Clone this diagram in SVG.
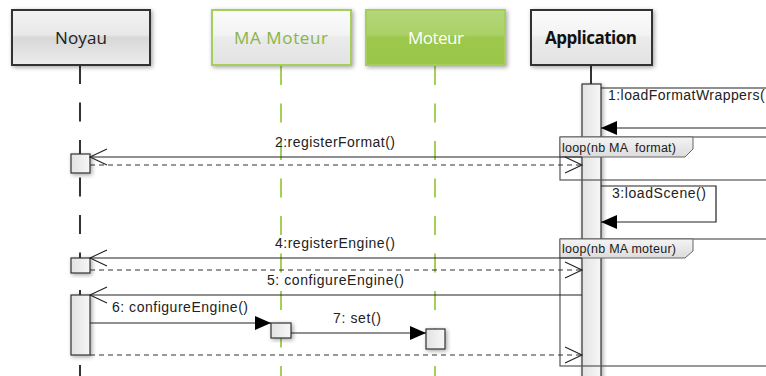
<svg xmlns="http://www.w3.org/2000/svg" width="766" height="376" viewBox="0 0 766 376">
<style>
.hdr{font-family:"Open Sans","Liberation Sans",sans-serif;font-size:17px;text-anchor:middle}
.msg{font-family:"Liberation Sans",Arial,sans-serif;font-size:14px;fill:#222}
.lbl{font-family:"Liberation Sans",Arial,sans-serif;font-size:12.5px;fill:#1a1a1a;white-space:pre}
.ln{stroke:#222;stroke-width:1.2;fill:none}
.dash{stroke:#333;stroke-width:1.2;fill:none;stroke-dasharray:5 4}
.act{fill:url(#gAct);stroke:#333;stroke-width:1.2;filter:url(#sh)}
.frame{fill:none;stroke:#555;stroke-width:1.2}
.flabel{fill:url(#gLbl);stroke:#666;stroke-width:1}
.llBlack{stroke:#333;stroke-width:2;stroke-dasharray:19 18.5}
.llGreen{stroke:#a6cf5a;stroke-width:2;stroke-dasharray:19 18.5}
</style>
<defs>
<filter id="sh" x="-20%" y="-20%" width="150%" height="150%">
<feDropShadow dx="1.5" dy="1.5" stdDeviation="2" flood-color="#000" flood-opacity="0.35"/>
</filter>
<linearGradient id="gGray" x1="0" y1="0" x2="0" y2="1">
<stop offset="0" stop-color="#f2f2f2"/><stop offset="0.45" stop-color="#e8e8e8"/><stop offset="0.5" stop-color="#d8d8d8"/><stop offset="1" stop-color="#ececec"/>
</linearGradient>
<linearGradient id="gWhite" x1="0" y1="0" x2="0" y2="1">
<stop offset="0" stop-color="#fbfbfb"/><stop offset="0.45" stop-color="#f3f3f3"/><stop offset="0.5" stop-color="#ebebeb"/><stop offset="1" stop-color="#e2e2e2"/>
</linearGradient>
<linearGradient id="gGreen" x1="0" y1="0" x2="0" y2="1">
<stop offset="0" stop-color="#b4d77a"/><stop offset="0.45" stop-color="#a9d166"/><stop offset="0.5" stop-color="#9cc84b"/><stop offset="1" stop-color="#9ac64a"/>
</linearGradient>
<linearGradient id="gAct" x1="0" y1="0" x2="1" y2="0">
<stop offset="0" stop-color="#e2e2e2"/><stop offset="1" stop-color="#f7f7f7"/>
</linearGradient>
<linearGradient id="gLbl" x1="0" y1="0" x2="0" y2="1">
<stop offset="0" stop-color="#f4f4f4"/><stop offset="1" stop-color="#dcdcdc"/>
</linearGradient>
<marker id="open" markerUnits="userSpaceOnUse" orient="auto" refX="0" refY="0" overflow="visible">
<path d="M-17,-8 L0,0 L-17,8" fill="none" stroke="#222" stroke-width="1.1"/>
</marker>
<marker id="fill" markerUnits="userSpaceOnUse" orient="auto" refX="0" refY="0" overflow="visible">
<path d="M-16,-7 L0,0 L-16,7 Z" fill="#000"/>
</marker>
</defs>

<g id="lifelines">
<line class="llBlack" x1="80" y1="65" x2="80" y2="376"/>
<line class="llGreen" x1="281" y1="66" x2="281" y2="376"/>
<line class="llGreen" x1="435" y1="66" x2="435" y2="376"/>
<line x1="591" y1="65" x2="591" y2="84" stroke="#333" stroke-width="2"/>
</g>

<g id="noyau">
<rect x="12" y="10" width="138" height="55" fill="url(#gGray)" stroke="#333" stroke-width="2" filter="url(#sh)"/>
<text class="hdr" x="81" y="44" fill="#222" textLength="52">Noyau</text>
</g>
<g id="ma-moteur">
<rect x="212" y="10" width="139" height="55" fill="url(#gWhite)" stroke="#a6cf5a" stroke-width="2" filter="url(#sh)"/>
<text class="hdr" x="281" y="44" fill="#8ab547" textLength="94">MA Moteur</text>
</g>
<g id="moteur">
<rect x="366" y="10" width="139" height="55" fill="url(#gGreen)" stroke="#a6cf5a" stroke-width="2" filter="url(#sh)"/>
<text class="hdr" x="436" y="44" fill="#ffffff" textLength="56">Moteur</text>
</g>
<g id="application">
<rect x="531" y="10" width="121" height="55" fill="url(#gWhite)" stroke="#333" stroke-width="2" filter="url(#sh)"/>
<text class="hdr" x="591" y="44" fill="#111" font-weight="bold" textLength="92">Application</text>
</g>

<g id="activations">
<rect class="act" x="582" y="84" width="19" height="300"/>
<rect class="act" x="71" y="154" width="19" height="19"/>
<rect class="act" x="71" y="258" width="19" height="15"/>
<rect class="act" x="71" y="295" width="19" height="60"/>
<rect class="act" x="271" y="323" width="20" height="15"/>
<rect class="act" x="426" y="329" width="19" height="20"/>
</g>

<g id="frames">
<rect class="frame" x="560" y="137" width="220" height="43"/>
<path class="flabel" d="M560,137 H693 V149 L685,157 H560 Z"/>
<text class="lbl" x="562" y="152" textLength="114" xml:space="preserve">loop(nb MA  format)</text>
<rect class="frame" x="560" y="239" width="220" height="127"/>
<path class="flabel" d="M560,239 H693 V251 L685,258 H560 Z"/>
<text class="lbl" x="562" y="253" textLength="114">loop(nb MA moteur)</text>
</g>

<g id="connectors">
<line class="ln" x1="601" y1="88" x2="770" y2="88"/>
<line class="ln" x1="770" y1="128" x2="601" y2="128" marker-end="url(#fill)"/>
<text class="msg" x="608" y="100" letter-spacing="0.45">1:loadFormatWrappers(</text>

<line class="ln" x1="582" y1="157" x2="90" y2="157" marker-end="url(#open)"/>
<line class="dash" x1="90" y1="165" x2="582" y2="165" marker-end="url(#open)"/>
<text class="msg" x="275" y="147" textLength="120">2:registerFormat()</text>

<path class="ln" d="M601,186 H716 V222 H601" marker-end="url(#fill)"/>
<text class="msg" x="612" y="198" textLength="94">3:loadScene()</text>

<line class="ln" x1="582" y1="258" x2="90" y2="258" marker-end="url(#open)"/>
<line class="dash" x1="90" y1="270" x2="582" y2="270" marker-end="url(#open)"/>
<text class="msg" x="275" y="248" textLength="120">4:registerEngine()</text>

<line class="ln" x1="582" y1="295" x2="90" y2="295" marker-end="url(#open)"/>
<text class="msg" x="267" y="285" textLength="137">5: configureEngine()</text>

<line class="ln" x1="90" y1="323" x2="271" y2="323" marker-end="url(#fill)"/>
<text class="msg" x="112" y="312" textLength="136">6: configureEngine()</text>

<line class="ln" x1="291" y1="333" x2="426" y2="333" marker-end="url(#fill)"/>
<text class="msg" x="333" y="323" textLength="48">7: set()</text>

<line class="dash" x1="90" y1="355" x2="582" y2="355" marker-end="url(#open)"/>
</g>
</svg>
